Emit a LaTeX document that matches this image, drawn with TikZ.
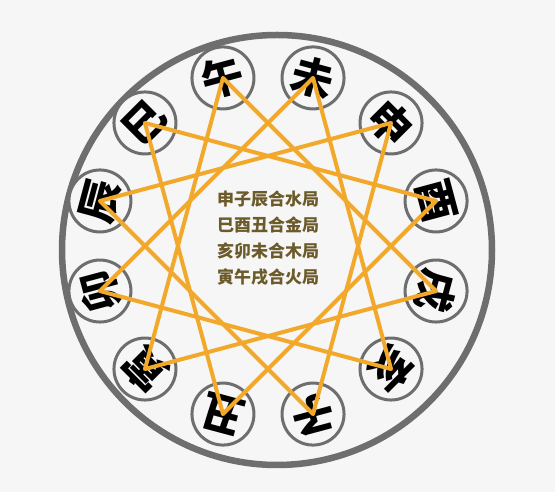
\documentclass[tikz,border=0pt]{standalone}
\usepackage{fontspec}
\newfontfamily\cjk{Noto Sans CJK SC}
\usetikzlibrary{calc}
\definecolor{bg}{HTML}{F6F6F6}
\definecolor{ringgray}{HTML}{6E6E6E}
\definecolor{starorange}{HTML}{F2A92B}
\definecolor{textbrown}{HTML}{6B5A2A}
\tikzset{
  ring/.style={draw=ringgray, line width=6.5pt},
  branch/.style={circle, draw=ringgray, line width=3pt, fill=bg, minimum size=62pt, inner sep=0pt,
    font=\cjk\bfseries\fontsize{42}{42}\selectfont, text=black},
  starline/.style={draw=starorange, line width=4pt, line join=round, line cap=round},
  centertext/.style={align=center, text=textbrown, font=\cjk\bfseries\fontsize{17}{26}\selectfont}
}
\begin{document}
\begin{tikzpicture}[x=1pt,y=1pt]
\fill[bg] (0,0) rectangle (555,492);
\useasboundingbox (0,0) rectangle (555,492);
\draw[ring] (277,242) circle (215);
\coordinate (C) at (268,246);
\foreach \n/\a/\t in {wu/105/午, wei/75/未, shen/45/申, you/15/酉, xu/-15/戌, hai/-45/亥,
  zi/-75/子, chou/-105/丑, yin/-135/寅, mao/-165/卯, chen/165/辰, si/135/巳}{
  \node[branch, minimum size=62pt] (\n) at ($(C)+(\a:174)$) {};
  \node[rotate=\a-90, inner sep=0pt, font=\cjk\bfseries\fontsize{42}{42}\selectfont] (\n t) at (\n.center) {\t};
}
\node[centertext] (txt) at (268,254) {申子辰合水局\\巳酉丑合金局\\亥卯未合木局\\寅午戌合火局};
\draw[starline] (shen.center) -- (zi.center) -- (chen.center) -- cycle;
\draw[starline] (si.center) -- (you.center) -- (chou.center) -- cycle;
\draw[starline] (hai.center) -- (mao.center) -- (wei.center) -- cycle;
\draw[starline] (yin.center) -- (wu.center) -- (xu.center) -- cycle;
\end{tikzpicture}
\end{document}
